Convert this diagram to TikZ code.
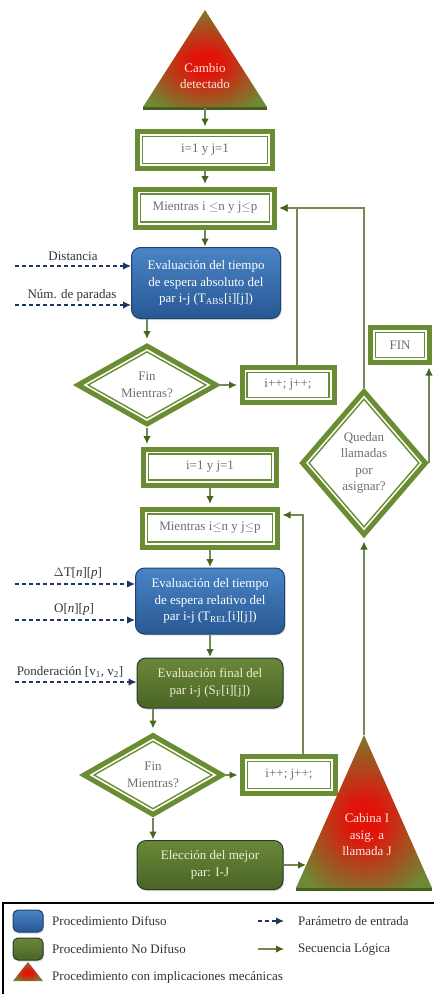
\documentclass[tikz,border=0pt]{standalone}
\usepackage{fontspec}
\setmainfont{Liberation Serif}
\usetikzlibrary{shapes.geometric,arrows.meta,calc,shadows}
\definecolor{bgreen}{RGB}{106,140,50}
\definecolor{lgreen}{RGB}{118,136,88}
\definecolor{agreen}{RGB}{72,100,34}
\definecolor{tgreen}{RGB}{108,138,52}
\definecolor{tdark}{RGB}{70,92,36}
\definecolor{tred}{RGB}{225,20,10}
\definecolor{btop}{RGB}{74,132,196}
\definecolor{bbot}{RGB}{40,88,148}
\definecolor{bdraw}{RGB}{32,66,112}
\definecolor{gtop}{RGB}{106,136,56}
\definecolor{gbot}{RGB}{74,100,36}
\definecolor{gdraw}{RGB}{42,58,52}
\definecolor{navy}{RGB}{30,55,95}
\definecolor{txtgray}{RGB}{110,110,110}
\definecolor{txtdark}{RGB}{50,50,50}
\definecolor{txtlight}{RGB}{240,238,218}
\definecolor{txtpink}{RGB}{250,232,222}
\pgfdeclareradialshading{redcore}{\pgfpoint{0bp}{-3bp}}{color(0bp)=(tred); color(6bp)=(tred); color(30bp)=(tgreen); color(50bp)=(tgreen)}
\begin{document}
\begin{tikzpicture}[x=1pt,y=-1pt,font=\fontsize{13}{16.5}\selectfont,
  dbox/.style={rectangle, draw=bgreen, line width=5pt, fill=white, inner sep=0pt, text=txtgray, align=center,
    path picture={\draw[bgreen,line width=1.4pt] ([xshift=5pt,yshift=-5pt]path picture bounding box.north west) rectangle ([xshift=-5pt,yshift=5pt]path picture bounding box.south east);}},
  ddia/.style 2 args={diamond, draw=bgreen, line width=5pt, fill=white, inner sep=0pt, text=txtgray, align=center,
    path picture={\draw[bgreen,line width=1.4pt] ([yshift=-#1]path picture bounding box.north) -- ([xshift=-#2]path picture bounding box.east) -- ([yshift=#1]path picture bounding box.south) -- ([xshift=#2]path picture bounding box.west) -- cycle;}},
  bluebox/.style={rectangle, rounded corners=9pt, top color=btop, bottom color=bbot, draw=bdraw, line width=1pt, text=white, align=center, inner sep=0pt, drop shadow={shadow xshift=1pt,shadow yshift=-1.5pt,opacity=0.3}},
  grnbox/.style={rectangle, rounded corners=9pt, top color=gtop, bottom color=gbot, draw=gdraw, line width=1pt, text=txtlight, align=center, inner sep=0pt, drop shadow={shadow xshift=1pt,shadow yshift=-1.5pt,opacity=0.3}},
  ln/.style={draw=lgreen, line width=1.2pt},
  arr/.style={ln, -{Latex[length=8pt,width=7.5pt,color=agreen]}},
  arrD/.style={arr, shorten >=2.5pt},
  arrV/.style={arr, shorten >=3.5pt},
  darr/.style={draw=navy, line width=1.2pt, dash pattern=on 4pt off 3pt, -{Latex[length=8pt,width=7.5pt]}},
  lbl/.style={text=txtdark, inner sep=0pt},
  tritxt/.style={text=txtpink, align=center, inner sep=0pt}
]
\useasboundingbox (0,0) rectangle (434,994);

% ---- top triangle
\coordinate (t1a) at (205,10);
\coordinate (t1l) at (143,107);
\coordinate (t1r) at (267,107);
\coordinate (t1b) at (205,108);
\draw[tdark, line width=2.5pt] ([yshift=-1.5pt]t1l) -- ([yshift=-1.5pt]t1r);
\shade[shading=redcore] (t1a) -- (t1r) -- (t1l) -- cycle;
\node[tritxt] (t1txt) at (205,76) {Cambio\\detectado};

% ---- first loop
\node[dbox, minimum width=135pt, minimum height=37pt] (b1) at (205,150) {i=1 y j=1};
\node[dbox, minimum width=139pt, minimum height=38pt] (b2) at (205,208) {Mientras i $\leq$n y j$\leq$p};
\node[bluebox, minimum width=149pt, minimum height=71pt] (blue1) at (206,283) {Evaluación del tiempo\\de espera absoluto del\\par i-j (T\textsubscript{ABS}[i][j])};
\node[ddia={5.8pt}{10.1pt}, minimum width=140pt, minimum height=80pt] (dia1) at (147,385) {Fin\\Mientras?};
\node[dbox, minimum width=92pt, minimum height=35pt] (inc1) at (288,385) {i++;\ j++;};

% ---- second loop
\node[dbox, minimum width=133pt, minimum height=36pt] (b3) at (210,467) {i=1 y j=1};
\node[dbox, minimum width=135pt, minimum height=38pt] (b4) at (210,528) {Mientras i$\leq$n y j$\leq$p};
\node[bluebox, minimum width=149pt, minimum height=66pt] (blue2) at (210,601) {Evaluación del tiempo\\de espera relativo del\\par i-j (T\textsubscript{REL}[i][j])};
\node[grnbox, minimum width=146pt, minimum height=50pt] (green1) at (210,683) {Evaluación final del\\par i-j (S\textsubscript{F}[i][j])};
\node[ddia={5.8pt}{10.1pt}, minimum width=140pt, minimum height=81pt] (dia2) at (153,775) {Fin\\Mientras?};
\node[dbox, minimum width=93pt, minimum height=37pt] (inc2) at (289,775) {i++;\ j++;};
\node[grnbox, minimum width=146pt, minimum height=49pt] (green2) at (210,865) {Elección del mejor\\par: I-J};

% ---- right column
\node[ddia={7.7pt}{6.6pt}, minimum width=125pt, minimum height=145pt] (dia3) at (364,463) {Quedan\\llamadas\\por\\asignar?};
\node[dbox, minimum width=59pt, minimum height=35pt] (fin) at (400,345) {FIN};

\coordinate (t2a) at (364,735);
\coordinate (t2l) at (296,888);
\coordinate (t2r) at (432,888);
\coordinate (t2e) at (306,865);
\draw[tdark, line width=2.5pt] ([yshift=-1.5pt]t2l) -- ([yshift=-1.5pt]t2r);
\shade[shading=redcore] (t2a) -- (t2r) -- (t2l) -- cycle;
\node[tritxt] (t2txt) at (367,835) {Cabina I\\asig. a\\llamada J};

% ---- connectors
\draw[arrD] (t1b) -- (b1.north);
\draw[arrD] (b1.south) -- (b2.north);
\draw[arr, shorten >=0.5pt] (b2.south) -- (b2.south |- blue1.north);
\draw[arrV] (dia1.north |- blue1.south) -- (dia1.north);
\draw[arrD] (dia1.east) -- (inc1.west);
\draw[arrD] ([xshift=9pt]inc1.north) |- (b2.east);
\draw[arrD] (dia3.north) |- (b2.east);
\draw[arrD] (dia1.south) -- (dia1.south |- b3.north);
\draw[arrD] (b3.south) -- (b4.north);
\draw[arr, shorten >=0.5pt] (b4.south) -- (blue2.north);
\draw[arr, shorten >=0.5pt] (blue2.south) -- (green1.north);
\draw[arrV] (dia2.north |- green1.south) -- (dia2.north);
\draw[arrD] (dia2.east) -- (inc2.west);
\draw[arrD] ([xshift=14pt]inc2.north) |- ([yshift=13pt]b4.east);
\draw[arr, shorten >=0.5pt] (dia2.south) -- (dia2.south |- green2.north);
\draw[arr] (green2.east) -- (t2e);
\draw[arrV] (t2a) -- (dia3.south);
\draw[arrD] (dia3.east) -- (dia3.east |- fin.south);

% ---- dashed inputs
\coordinate (d1) at (15,266);
\coordinate (d2) at (15,305);
\coordinate (d3) at (15,584);
\coordinate (d4) at (15,620);
\coordinate (d5) at (15,682);
\draw[darr] (d1) -- (d1 -| blue1.west);
\draw[darr] (d2) -- (d2 -| blue1.west);
\draw[darr] (d3) -- (d3 -| blue2.west);
\draw[darr] (d4) -- (d4 -| blue2.west);
\draw[darr] (d5) -- (d5 -| green1.west);
\node[lbl] (l1) at (73,256) {Distancia};
\node[lbl] (l2) at (72,295) {Núm. de paradas};
\node[lbl] (l3) at (78,573) {$\Delta$T[\textit{n}][\textit{p}]};
\node[lbl] (l4) at (74,609) {O[\textit{n}][\textit{p}]};
\node[lbl] (l5) at (70,672) {Ponderación [v\textsubscript{1}, v\textsubscript{2}]};

% ---- legend
\draw[black, line width=1.3pt] (3,903) rectangle (440,1000);
\node[bluebox, rounded corners=5pt, minimum width=30pt, minimum height=22pt] (lg1) at (28,921) {};
\node[grnbox, rounded corners=5pt, minimum width=30pt, minimum height=22pt] (lg2) at (28,949) {};
\coordinate (lg3a) at (28,962);
\coordinate (lg3l) at (13,981);
\coordinate (lg3r) at (43,981);
\shade[shading=redcore] (lg3a) -- (lg3r) -- (lg3l) -- cycle;
\node[lbl, anchor=west] (lt1) at (52,921) {Procedimiento Difuso};
\node[lbl, anchor=west] (lt2) at (52,949) {Procedimiento No Difuso};
\node[lbl, anchor=west] (lt3) at (52,977) {Procedimiento con implicaciones mecánicas};
\coordinate (la1) at (258,921);
\coordinate (la1e) at (284,921);
\coordinate (la2) at (258,949);
\coordinate (la2e) at (284,949);
\draw[darr] (la1) -- (la1e);
\draw[arr] (la2) -- (la2e);
\node[lbl, anchor=west] (lt4) at (298,921) {Parámetro de entrada};
\node[lbl, anchor=west] (lt5) at (298,949) {Secuencia Lógica};
\end{tikzpicture}
\end{document}
